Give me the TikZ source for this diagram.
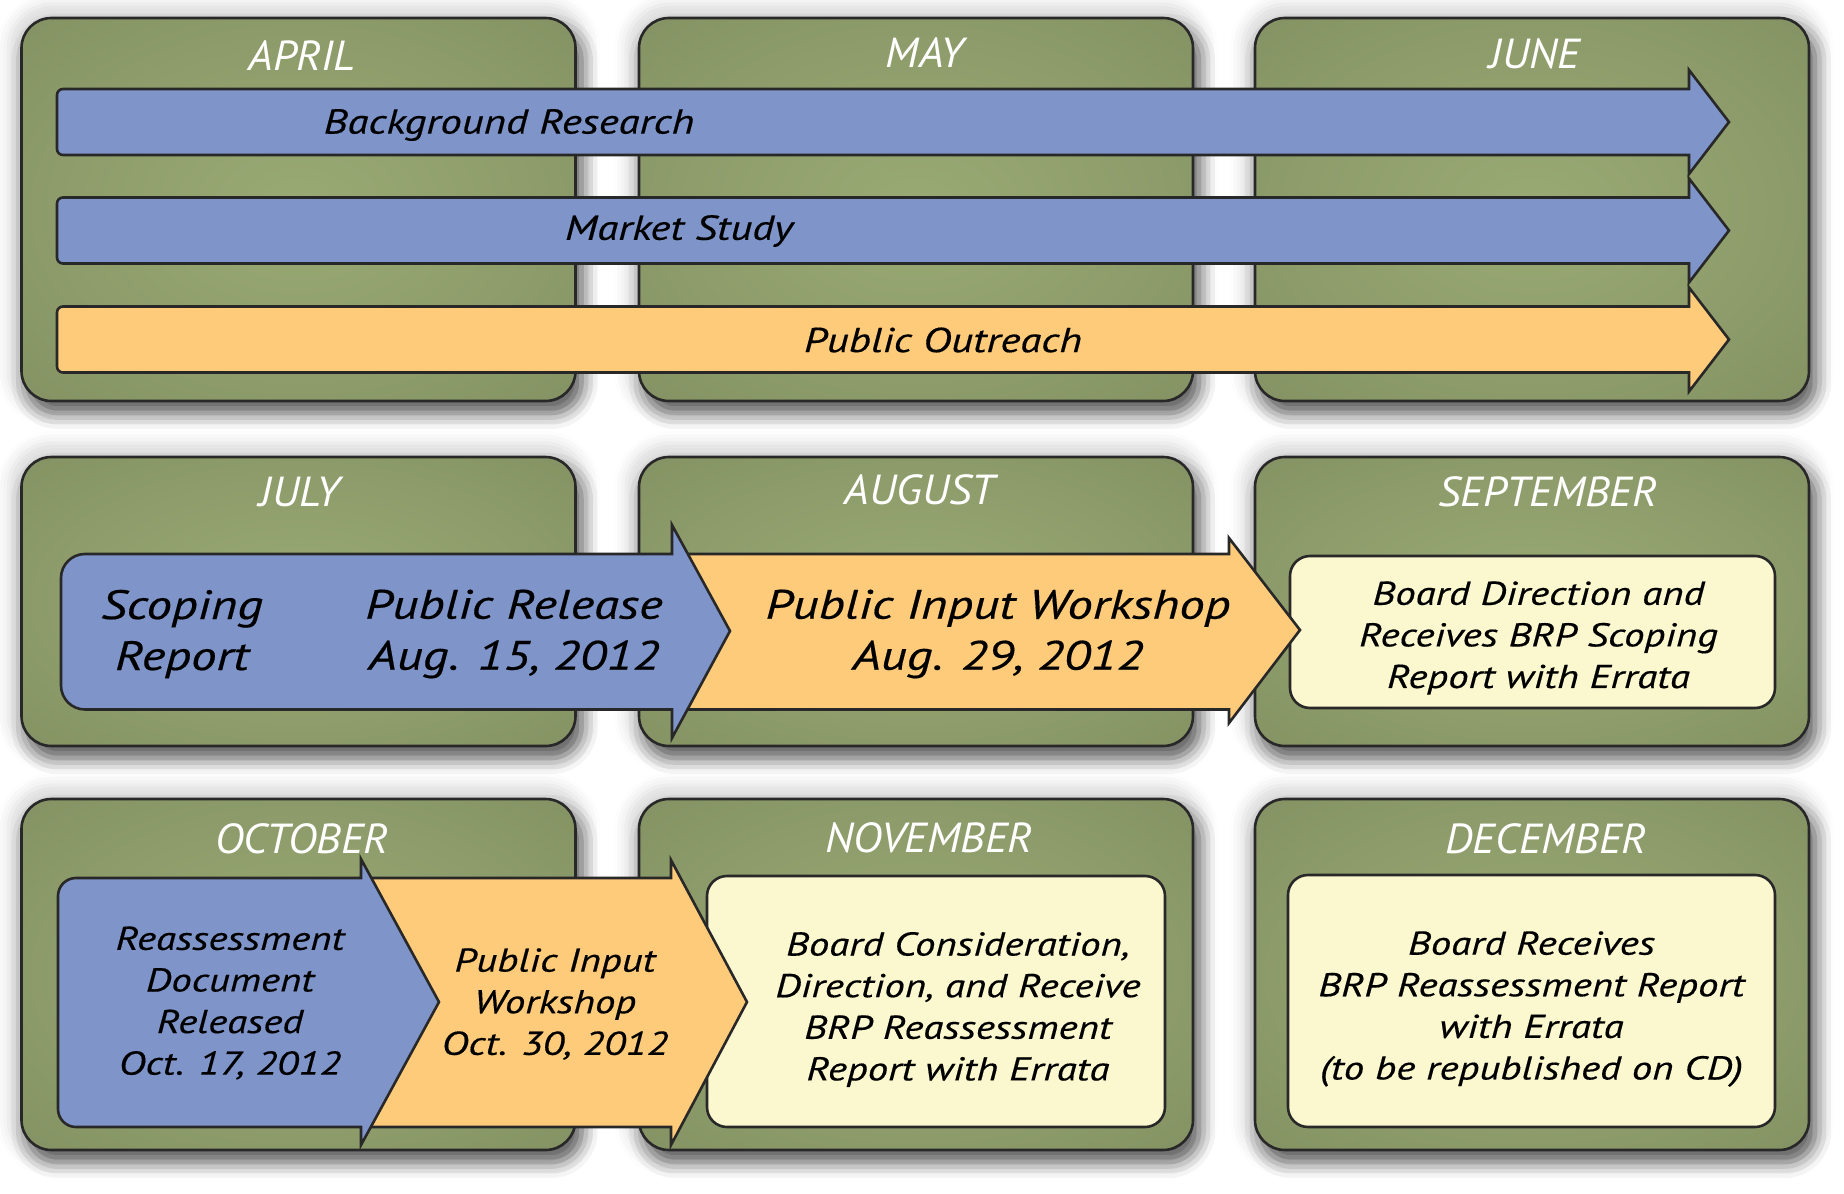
\documentclass[tikz,border=0pt]{standalone}
\usepackage{fontspec}
\setmainfont{PT Sans}
\newfontfamily\titlefont[FakeStretch=1.05]{PT Sans}
\newfontfamily\labelfont[FakeStretch=1.24,FakeBold=0.4]{PT Sans}
\usetikzlibrary{shadows.blur}

\definecolor{greenin}{RGB}{154,170,116}
\definecolor{greenmid}{RGB}{141,156,106}
\definecolor{greenout}{RGB}{124,137,93}
\definecolor{edgegray}{RGB}{40,40,40}
\definecolor{barblue}{RGB}{127,148,201}
\definecolor{barorange}{RGB}{254,203,122}
\definecolor{notecream}{RGB}{251,247,207}

\pgfdeclareradialshading{monthglow}{\pgfpoint{0bp}{0bp}}{color(0bp)=(greenin); color(22bp)=(greenmid); color(50bp)=(greenout); color(75bp)=(greenout)}

\tikzset{
  monthbox/.style={draw=edgegray, line width=1.3pt, rounded corners=15pt, shading=monthglow,
    minimum width=277pt, inner sep=0pt,
    blur shadow={shadow xshift=3pt, shadow yshift=-6pt, shadow blur radius=8pt, shadow opacity=60}},
  halo/.style={rounded corners=22pt,
    blur shadow={shadow xshift=0pt, shadow yshift=0pt, shadow blur radius=6pt, shadow opacity=14}},
  monthname/.style={text=white, font=\titlefont\itshape\fontsize{21}{24}\selectfont},
  bar/.style={draw=edgegray, line width=1.3pt, line join=miter},
  bartext/.style={font=\labelfont\itshape\fontsize{17.3}{20}\selectfont},
  bigtext/.style={font=\labelfont\itshape\fontsize{20.5}{25.5}\selectfont, align=center},
  notebox/.style={draw=edgegray, line width=1.3pt, fill=notecream, rounded corners=10pt, inner sep=0pt},
  notetext/.style={font=\labelfont\itshape\fontsize{16.5}{20.8}\selectfont, align=center},
}

\begin{document}
\begin{tikzpicture}[x=0.5pt,y=-0.5pt]
\useasboundingbox (0,0) rectangle (1844,1194);

% glow behind the month panels
\foreach \cx/\cy/\hh in {298.5/209.5/383, 916/209.5/383, 1532/209.5/383,
    298.5/601.5/289, 916/601.5/289, 1532/601.5/289,
    298.5/974.5/351, 916/974.5/351, 1532/974.5/351}
  \path[halo] (\cx-290,\cy-\hh/2-14) rectangle (\cx+290,\cy+\hh/2+14);

% month panels
\foreach \nm/\cx/\cy/\hh in {apr/298.5/209.5/383, may/916/209.5/383, jun/1532/209.5/383,
    jul/298.5/601.5/289, aug/916/601.5/289, sep/1532/601.5/289,
    oct/298.5/974.5/351, nov/916/974.5/351, dec/1532/974.5/351}
  \node[monthbox, minimum height=\hh*0.5pt] (\nm) at (\cx,\cy) {};

\node[monthname] (apr-t) at (302,56) {APRIL};
\node[monthname] (may-t) at (925,53) {MAY};
\node[monthname] (jun-t) at (1535,54) {JUNE};
\node[monthname] (jul-t) at (300,492) {JULY};
\node[monthname] (aug-t) at (920,490) {AUGUST};
\node[monthname] (sep-t) at (1548,492) {SEPTEMBER};
\node[monthname] (oct-t) at (302,839) {OCTOBER};
\node[monthname] (nov-t) at (929,838) {NOVEMBER};
\node[monthname] (dec-t) at (1546,839) {DECEMBER};

% April to June
\foreach \yc/\col/\lbl/\lx/\ly [count=\i] in {122/barblue/Background Research/509/125,
    230.5/barblue/Market Study/679/231, 339.5/barorange/Public Outreach/943/340} {
  \filldraw[bar, fill=\col] (800,\yc-33) [rounded corners=3pt] -- (57,\yc-33) -- (57,\yc+33)
    -- (800,\yc+33) [sharp corners] -- (1689,\yc+33) -- (1689,\yc+52) -- (1729,\yc)
    -- (1689,\yc-52) -- (1689,\yc-33) -- cycle;
  \node[bartext] (bar\i) at (\lx,\ly) {\lbl};
}

% July to September
\node[notebox, minimum width=242.5pt, minimum height=76pt] (sepnote) at (1532.5,632) {};
\node[notetext] (septext) at ([xshift=3pt,yshift=-3pt]sepnote.center)
  {Board Direction and\\Receives BRP Scoping\\Report with Errata};
\filldraw[bar, fill=barorange] (672,554) -- (1229,554) -- (1229,538) -- (1300,630)
  -- (1229,723) -- (1229,709.5) -- (672,709.5) -- cycle;
\filldraw[bar, fill=barblue] (300,554) [rounded corners=12pt] -- (61,554) -- (61,709.5)
  -- (300,709.5) [sharp corners] -- (672,709.5) -- (672,738) -- (730,631) -- (672,525)
  -- (672,554) -- cycle;
\node[bigtext] (scoping) at (182,634) {Scoping\\Report};
\node[bigtext] (release) at (514,634) {Public Release\\Aug. 15, 2012};
\node[bigtext] (augws) at (998,634) {Public Input Workshop\\Aug. 29, 2012};

% October to December
\node[notebox, minimum width=229pt, minimum height=125.5pt] (novnote) at (936,1001.5) {};
\node[notebox, minimum width=243.5pt, minimum height=126pt] (decnote) at (1531.5,1001) {};
\node[notetext] (dectext) at ([yshift=-4pt]decnote.center)
  {Board Receives\\BRP Reassessment Report\\with Errata\\(to be republished on CD)};
\filldraw[bar, fill=barorange] (361,878) -- (671,878) -- (671,860) -- (747,1002)
  -- (671,1145) -- (671,1127) -- (361,1127) -- cycle;
\filldraw[bar, fill=barblue] (200,878) [rounded corners=9pt] -- (58,878) -- (58,1127)
  -- (200,1127) [sharp corners] -- (361,1127) -- (361,1145) -- (439,1002) -- (361,859)
  -- (361,878) -- cycle;
\node[notetext] (octrel) at (230,1003) {Reassessment\\Document\\Released\\Oct. 17, 2012};
\node[notetext] (octws) at (555,1004) {Public Input\\Workshop\\Oct. 30, 2012};
\node[notetext] (novtext) at ([xshift=11pt,yshift=-4pt]novnote.center)
  {Board Consideration,\\Direction, and Receive\\BRP Reassessment\\Report with Errata};
\end{tikzpicture}
\end{document}
